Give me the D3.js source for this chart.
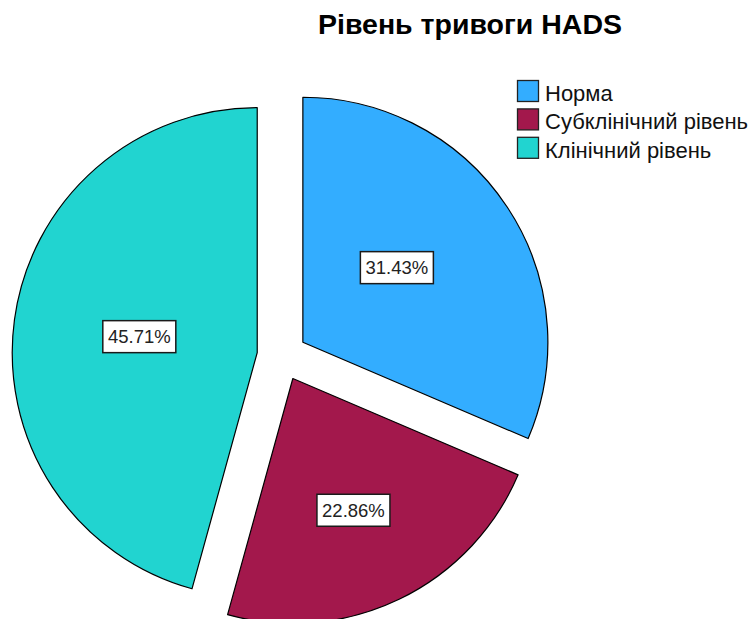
<!DOCTYPE html>
<html>
<head>
<meta charset="utf-8">
<script src="https://cdn.jsdelivr.net/npm/d3@7"></script>
<style>
  body { margin: 0; background: #fff; }
  svg { display: block; font-family: "Liberation Sans", Arial, sans-serif; }
</style>
</head>
<body>
<svg id="chart" width="756" height="619"></svg>
<script>
// chart data
const categories = ["Норма", "Субклінічний рівень", "Клінічний рівень"];
const percents = [31.43, 22.86, 45.71];
const colors = ["#33adff", "#a3184c", "#21d4d0"];
const title = "Рівень тривоги HADS";

let svg = d3.select("#chart");

let cx = 282, cy = 356;   // pie centre
let radius = 245;
let explode = 25;         // how far each slice is pulled out

let pie = d3.pie().sort(null).value(d => d)(percents);
let arc = d3.arc().innerRadius(0).outerRadius(radius);

// label placement from the slice tip (SPSS doesn't put them exactly on the bisector)
const labelAdjust = {
    "Норма": { dist: 120, turn: -5 },
    "Субклінічний рівень": { dist: 145, turn: 1 }
};

let g = svg.append("g").attr("transform", `translate(${cx},${cy})`);

let slices = g.selectAll("g.slice")
    .data(pie)
    .join("g")
    .attr("class", "slice")
    .attr("transform", d => {
        let mid = (d.startAngle + d.endAngle) / 2;
        return `translate(${Math.sin(mid) * explode},${-Math.cos(mid) * explode})`;
    });

slices.append("path")
    .attr("d", arc)
    .attr("fill", (d, i) => colors[i])
    .attr("stroke", "#000")
    .attr("stroke-width", 1.2)
    .attr("stroke-linejoin", "round");

slices.each(function(d, i) {
    let adj = labelAdjust[categories[i]] || { dist: 119, turn: 0 };
    let mid = (d.startAngle + d.endAngle) / 2 + adj.turn * Math.PI / 180;
    let x = Math.sin(mid) * adj.dist, y = -Math.cos(mid) * adj.dist;
    let lab = d3.select(this).append("g").attr("transform", `translate(${x},${y})`);
    lab.append("rect")
        .attr("x", -36.5).attr("y", -16)
        .attr("width", 73).attr("height", 32)
        .attr("fill", "#fff")
        .attr("stroke", "#1a1a1a")
        .attr("stroke-width", 1.5);
    lab.append("text")
        .attr("text-anchor", "middle")
        .attr("y", 6.5)
        .attr("font-size", "18.5px")
        .attr("fill", "#222")
        .text(percents[i].toFixed(2) + "%");
});

// title
svg.append("text")
    .attr("x", 470)
    .attr("y", 34)
    .attr("text-anchor", "middle")
    .attr("font-size", "28.5px")
    .attr("font-weight", "bold")
    .attr("fill", "#000")
    .text(title);

// legend
let legend = svg.append("g").attr("transform", "translate(517.5,80.5)");
let rows = legend.selectAll("g")
    .data(categories)
    .join("g")
    .attr("transform", (d, i) => `translate(0,${i * 28.4})`);

rows.append("rect")
    .attr("width", 21).attr("height", 21)
    .attr("fill", (d, i) => colors[i])
    .attr("stroke", "#222")
    .attr("stroke-width", 1.3);

rows.append("text")
    .attr("x", 27.5)
    .attr("y", 20.5)
    .attr("font-size", "22px")
    .attr("fill", "#111")
    .text(d => d);
</script>
</body>
</html>
